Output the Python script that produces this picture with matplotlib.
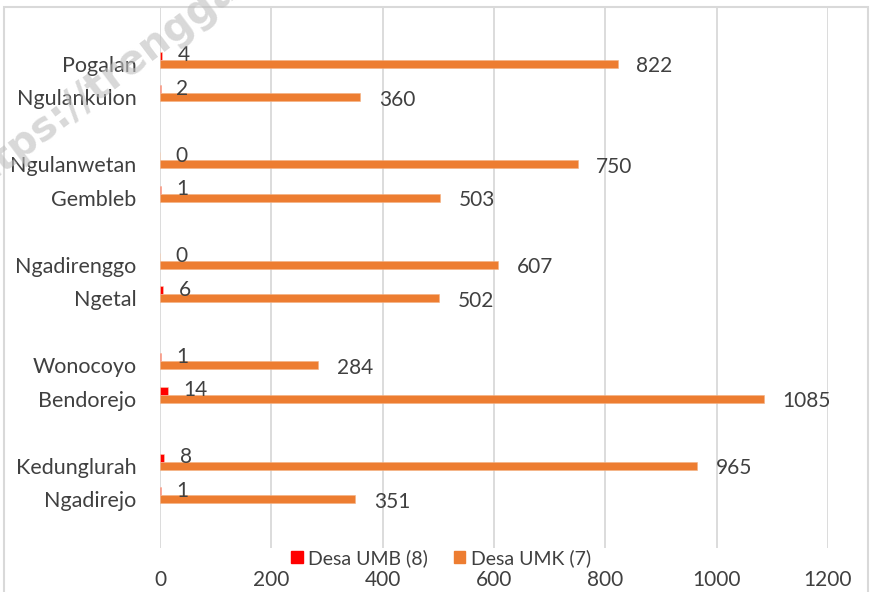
import matplotlib
matplotlib.use("Agg")
import matplotlib.pyplot as plt
from matplotlib.patches import Rectangle, Patch

plt.rcParams['font.family'] = ['Lato', 'DejaVu Sans']

categories = ["Pogalan", "Ngulankulon", "Ngulanwetan", "Gembleb", "Ngadirenggo",
              "Ngetal", "Wonocoyo", "Bendorejo", "Kedunglurah", "Ngadirejo"]
umb_values = [4, 2, 0, 1, 0, 6, 1, 14, 8, 1]
umk_values = [822, 360, 750, 503, 607, 502, 284, 1085, 965, 351]
series_names = ["Desa UMB (8)", "Desa UMK (7)"]
x_ticks = [0, 200, 400, 600, 800, 1000, 1200]

W, H = 871, 592
fig = plt.figure(figsize=(W / 100, H / 100), dpi=100)
ax = fig.add_axes([160 / W, 1 - 548 / H, (828 - 160) / W, (548 - 8) / H])

TEXT = "#404040"
ORANGE = "#ED7D31"
RED = "#FF0000"
GRID = "#D9D9D9"

# pairs of categories separated by an empty slot
pos = [i + i // 2 for i in range(len(categories))]
bh = 0.24

ax.barh(pos, umk_values, height=bh, color=ORANGE, edgecolor="#F4B183", linewidth=0.4, zorder=3)
ax.barh([p - bh for p in pos], umb_values, height=bh, color=RED, edgecolor="#F8CBAD", linewidth=0.4, zorder=3)

for p, v in zip(pos, umk_values):
    ax.annotate(str(v), (v, p), xytext=(13.5, -1.8), textcoords="offset points",
                ha="left", va="center", fontsize=15, color=TEXT, zorder=4)
for p, v in zip(pos, umb_values):
    ax.annotate(str(v), (v, p - bh), xytext=(11, 0.5), textcoords="offset points",
                ha="left", va="center", fontsize=15, color=TEXT, zorder=4)

ax.set_xlim(0, 1200)
ax.set_ylim(14.45, -1.67)
ax.set_xticks(x_ticks)
ax.set_xticklabels([str(t) for t in x_ticks])
ax.set_yticks(pos)
ax.set_yticklabels(categories)
ax.tick_params(axis="x", length=0, pad=16, labelsize=15, labelcolor=TEXT)
ax.tick_params(axis="y", length=0, pad=17, labelsize=15.5, labelcolor=TEXT)
ax.grid(axis="x", color=GRID, linewidth=1.3, zorder=0)
for s in ax.spines.values():
    s.set_visible(False)

handles = [Patch(facecolor=RED, edgecolor=RED), Patch(facecolor=ORANGE, edgecolor=ORANGE)]
fig.legend(handles, series_names, loc="center", bbox_to_anchor=(441 / W, 1 - 558 / H),
           ncol=2, frameon=False, fontsize=14, labelcolor=TEXT,
           handlelength=0.6, handleheight=0.6, handletextpad=0.3, columnspacing=1.3,
           borderpad=0.1)

# chart border
fig.patches.append(Rectangle((4 / W, -0.05), (868 - 4) / W, 1.05 - 7 / H,
                             transform=fig.transFigure, fill=False,
                             edgecolor=GRID, linewidth=1.5))

# watermark
fig.text(-35 / W, 1 - 200 / H, "https://trenggalekkab.go.id", rotation=37,
         fontsize=29, fontweight="bold", color="#BFBFBF", alpha=0.6,
         family="DejaVu Sans",
         ha="left", va="baseline", rotation_mode="anchor", zorder=10)

fig.savefig("out.png", dpi=100)
